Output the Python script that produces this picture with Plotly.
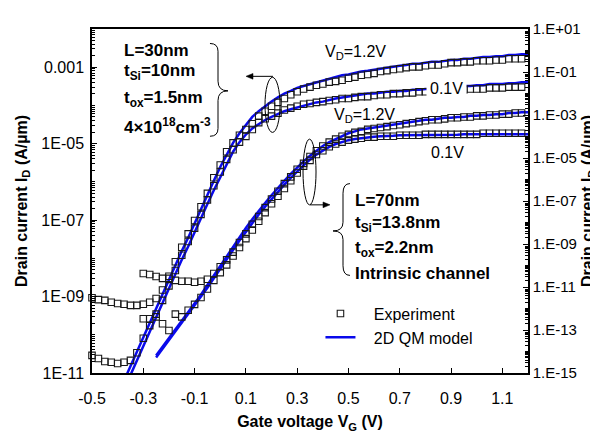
import numpy as np
import plotly.graph_objects as go

STEP = 0.025  # gate-voltage sweep step (V)

# ---------- L = 30 nm device (left axis), log10 of I_D in A/um ----------
vg30_exp_start = -0.5
id30_vd12_exp_log = [-9.03, -9.08, -9.10, -9.15, -9.18, -9.20, -9.23, -9.23, -9.20, -9.15,
                     -9.05, -8.83, -8.47, -8.09, -7.71, -7.36, -7.01, -6.65, -6.30, -5.89,
                     -5.56, -5.21, -4.98, -4.78, -4.63, -4.48, -4.28, -4.15, -4.02, -3.92,
                     -3.82, -3.72, -3.64, -3.57, -3.52, -3.47, -3.44, -3.39, -3.37, -3.34,
                     -3.29, -3.26, -3.21, -3.19, -3.16, -3.11, -3.09, -3.06, -3.04, -3.01,
                     -2.99, -2.99, -2.96, -2.94, -2.94, -2.91, -2.88, -2.88, -2.86, -2.86,
                     -2.83, -2.83, -2.83, -2.81, -2.81, -2.78, -2.78, -2.78]
id30_vd01_exp_log = [-10.54, -10.62, -10.70, -10.72, -10.75, -10.72, -10.67, -10.47, -10.09, -9.76,
                     -9.46, -9.10, -8.72, -8.32, -7.92, -7.56, -7.21, -6.85, -6.47, -6.10,
                     -5.74, -5.41, -5.16, -4.96, -4.81, -4.63, -4.45, -4.35, -4.28, -4.20,
                     -4.12, -4.07, -4.02, -3.97, -3.95, -3.92, -3.90, -3.87, -3.85, -3.82,
                     -3.82, -3.79, -3.77, -3.77, -3.74, -3.72, -3.72, -3.69, -3.69, -3.67,
                     -3.67, -3.64, -3.64, -3.62, -3.62, -3.62, -3.59, -3.59, -3.59, -3.57,
                     -3.57, -3.57, -3.54, -3.54, -3.54, -3.52, -3.52, -3.52]
vg30_mod_start = -0.375
id30_vd12_mod_log = [-11.20, -10.82, -10.44, -10.06, -9.68, -9.31, -8.93, -8.55, -8.19, -7.81,
                     -7.46, -7.08, -6.73, -6.35, -5.97, -5.61, -5.29, -4.98, -4.73, -4.50,
                     -4.30, -4.15, -4.02, -3.90, -3.79, -3.69, -3.62, -3.54, -3.49, -3.44,
                     -3.39, -3.34, -3.29, -3.26, -3.21, -3.19, -3.14, -3.11, -3.09, -3.06,
                     -3.04, -3.01, -2.99, -2.96, -2.94, -2.91, -2.91, -2.88, -2.86, -2.86,
                     -2.83, -2.81, -2.81, -2.78, -2.78, -2.76, -2.73, -2.73, -2.71, -2.71,
                     -2.68, -2.68, -2.66, -2.66]
id30_vd01_mod_log = [-11.43, -11.05, -10.67, -10.29, -9.91, -9.53, -9.15, -8.77, -8.42, -8.04,
                     -7.69, -7.31, -6.95, -6.58, -6.22, -5.87, -5.54, -5.21, -4.96, -4.76,
                     -4.60, -4.48, -4.38, -4.30, -4.22, -4.15, -4.10, -4.05, -4.00, -3.95,
                     -3.92, -3.90, -3.85, -3.82, -3.79, -3.77, -3.74, -3.72, -3.69, -3.69,
                     -3.67, -3.64, -3.64, -3.62, -3.62, -3.59, -3.59, -3.57, -3.57, -3.54,
                     -3.54, -3.52, -3.52, -3.49, -3.49, -3.47, -3.47, -3.44, -3.44, -3.44,
                     -3.42, -3.42, -3.39, -3.39]

# ---------- L = 70 nm device (right axis), log10 of I_D in A/um ----------
vg70_exp_start = -0.3
id70_vd12_exp_log = [-10.37, -10.42, -10.51, -10.60, -10.60, -10.69, -10.73, -10.73, -10.78, -10.73,
                     -10.64, -10.37, -10.06, -9.74, -9.38, -8.93, -8.53, -8.08, -7.72, -7.31,
                     -6.91, -6.55, -6.19, -5.88, -5.52, -5.25, -4.93, -4.66, -4.44, -4.26,
                     -4.12, -3.99, -3.90, -3.81, -3.76, -3.67, -3.63, -3.58, -3.54, -3.49,
                     -3.45, -3.40, -3.36, -3.31, -3.27, -3.22, -3.22, -3.18, -3.13, -3.13,
                     -3.09, -3.09, -3.04, -3.04, -3.00, -3.00, -2.96, -2.96, -2.91, -2.91]
id70_vd01_exp_log = [-12.48, -12.48, -12.39, -12.71, -13.02, -12.26, -12.39, -12.08, -11.81, -11.49,
                     -11.09, -10.69, -10.33, -9.97, -9.56, -9.16, -8.75, -8.35, -7.94, -7.54,
                     -7.13, -6.78, -6.42, -6.06, -5.70, -5.38, -5.11, -4.84, -4.66, -4.48,
                     -4.35, -4.26, -4.17, -4.12, -4.08, -4.03, -4.03, -3.99, -3.99, -3.99,
                     -3.94, -3.94, -3.94, -3.94, -3.90, -3.90, -3.90, -3.90, -3.90, -3.90,
                     -3.90, -3.90, -3.90, -3.85, -3.85, -3.85, -3.85, -3.85, -3.85, -3.85]
vg70_mod_start = -0.25
id70_vd12_mod_log = [-14.19, -13.79, -13.38, -12.98, -12.57, -12.17, -11.76, -11.36, -10.91, -10.46,
                     -10.01, -9.61, -9.11, -8.66, -8.26, -7.85, -7.45, -7.09, -6.73, -6.37,
                     -6.06, -5.74, -5.43, -5.16, -4.89, -4.66, -4.44, -4.26, -4.12, -3.99,
                     -3.85, -3.76, -3.67, -3.63, -3.58, -3.54, -3.49, -3.45, -3.40, -3.36,
                     -3.31, -3.27, -3.22, -3.22, -3.18, -3.13, -3.13, -3.09, -3.09, -3.04,
                     -3.04, -3.00, -3.00, -2.96, -2.96, -2.91, -2.91, -2.87, -2.87]
id70_vd01_mod_log = [-14.28, -13.88, -13.47, -13.07, -12.66, -12.26, -11.85, -11.45, -11.04, -10.60,
                     -10.15, -9.74, -9.29, -8.84, -8.44, -8.03, -7.63, -7.27, -6.91, -6.55,
                     -6.24, -5.92, -5.61, -5.34, -5.07, -4.84, -4.66, -4.48, -4.35, -4.26,
                     -4.17, -4.12, -4.08, -4.03, -4.01, -3.99, -3.99, -3.97, -3.94, -3.94,
                     -3.92, -3.92, -3.92, -3.92, -3.92, -3.92, -3.92, -3.92,
                     -3.90, -3.90, -3.90, -3.90, -3.90, -3.90, -3.90, -3.90, -3.90, -3.90, -3.90]

# ---------- axis ticks ----------
x_tickvals = [-0.5, -0.3, -0.1, 0.1, 0.3, 0.5, 0.7, 0.9, 1.1]
x_ticktext = ["-0.5", "-0.3", "-0.1", "0.1", "0.3", "0.5", "0.7", "0.9", "1.1"]
yl_tick_exp = [-11, -9, -7, -5, -3]
yl_ticktext = ["1E-11", "1E-09", "1E-07", "1E-05", "0.001"]
yr_tick_exp = [-15, -13, -11, -9, -7, -5, -3, -1, 1]
yr_ticktext = ["1.E-15", "1.E-13", "1.E-11", "1.E-09", "1.E-07", "1.E-05", "1.E-03", "1.E-01", "1.E+01"]


def sweep(start, vals):
    return np.round(start + STEP * np.arange(len(vals)), 4)


def cur(vals):
    return np.power(10.0, np.array(vals))


def minor_vals(lo, hi, majors):
    out = []
    for e in range(lo, hi):
        for m in range(1, 10):
            if m == 1 and e in majors:
                continue
            out.append(m * 10.0 ** e)
    return out


BLUE = "rgb(10,10,235)"
FONT = "Liberation Sans, Arial, sans-serif"
NB = "\u00a0" * 3

fig = go.Figure()

model_sets = [
    (vg30_mod_start, id30_vd12_mod_log, "y", True),
    (vg30_mod_start, id30_vd01_mod_log, "y", False),
    (vg70_mod_start, id70_vd12_mod_log, "y2", False),
    (vg70_mod_start, id70_vd01_mod_log, "y2", False),
]
for start, vals, ax, leg in model_sets:
    fig.add_trace(go.Scatter(
        x=sweep(start, vals), y=cur(vals), yaxis=ax, mode="lines",
        line=dict(color=BLUE, width=2.5), name=NB + "2D QM model",
        showlegend=leg, legendrank=2))

exp_sets = [
    (vg30_exp_start, id30_vd12_exp_log, "y", True),
    (vg30_exp_start, id30_vd01_exp_log, "y", False),
    (vg70_exp_start, id70_vd12_exp_log, "y2", False),
    (vg70_exp_start, id70_vd01_exp_log, "y2", False),
]
for start, vals, ax, leg in exp_sets:
    fig.add_trace(go.Scatter(
        x=sweep(start, vals), y=cur(vals), yaxis=ax, mode="markers",
        marker=dict(symbol="square-open", size=6.5, color="rgb(25,25,25)",
                    line=dict(width=1.1, color="rgb(25,25,25)")),
        name=NB + "Experiment", showlegend=leg, legendrank=1, cliponaxis=False))

title_y = "<b>Drain current I<sub>D</sub> (A/µm)</b>"

fig.update_layout(
    width=598, height=432,
    margin=dict(l=84, r=78, t=13, b=63),
    paper_bgcolor="white", plot_bgcolor="white",
    font=dict(family=FONT, color="black", size=15),
    xaxis=dict(range=[-0.5, 1.2], tickmode="array", tickvals=x_tickvals, ticktext=x_ticktext,
               ticks="inside", ticklen=5, tickcolor="black", tickwidth=1,
               showline=True, linecolor="black", linewidth=1.5, mirror=True,
               showgrid=False, zeroline=False, tickfont=dict(size=16),
               ticklabelstandoff=10,
               title=dict(text="<b>Gate voltage V<sub>G</sub> (V)</b>", font=dict(size=16), standoff=10)),
    yaxis=dict(type="log", range=[-11, -2], tickmode="array",
               tickvals=[10.0 ** e for e in yl_tick_exp], ticktext=yl_ticktext,
               ticks="inside", ticklen=5, tickcolor="black",
               minor=dict(tickmode="array", tickvals=minor_vals(-11, -2, yl_tick_exp),
                          ticks="inside", ticklen=3, tickcolor="black"),
               showline=True, linecolor="black", linewidth=1.5,
               showgrid=False, zeroline=False, tickfont=dict(size=16),
               ticklabelstandoff=3,
               title=dict(text=title_y, font=dict(size=16), standoff=10)),
    yaxis2=dict(type="log", range=[-15, 1], overlaying="y", side="right", tickmode="array",
                tickvals=[10.0 ** e for e in yr_tick_exp], ticktext=yr_ticktext,
                ticks="inside", ticklen=5, tickcolor="black",
                minor=dict(tickmode="array", tickvals=minor_vals(-15, 1, yr_tick_exp),
                           ticks="inside", ticklen=3, tickcolor="black"),
                showline=True, linecolor="black", linewidth=1.5,
                showgrid=False, zeroline=False, tickfont=dict(size=15),
                ticklabelstandoff=0,
                title=dict(text=title_y, font=dict(size=16), standoff=2)),
    legend=dict(x=0.524, y=0.222, xanchor="left", yanchor="top",
                bgcolor="rgba(0,0,0,0)", font=dict(size=16, family=FONT),
                itemwidth=30, tracegroupgap=0),
)


# text annotations (paper coordinates)
def txt(text, x, y, size=17, bg=None, pad=1):
    d = dict(text=text, x=x, y=y, xref="paper", yref="paper", xanchor="left", yanchor="middle",
             showarrow=False, font=dict(size=size, family=FONT, color="black"), borderpad=pad)
    if bg:
        d["bgcolor"] = bg
    return d


annots = [
    txt("<b>L=30nm</b>", 0.068, 0.938),
    txt("<b>t<sub>Si</sub>=10nm</b>", 0.068, 0.8736),
    txt("<b>t<sub>ox</sub>=1.5nm</b>", 0.068, 0.7978),
    txt("<b>4×10<sup>18</sup>cm<sup>-3</sup></b>", 0.068, 0.719),
    txt("<b>L=70nm</b>", 0.598, 0.5028),
    txt("<b>t<sub>Si</sub>=13.8nm</b>", 0.598, 0.4326),
    txt("<b>t<sub>ox</sub>=2.2nm</b>", 0.598, 0.3596),
    txt("<b>Intrinsic channel</b>", 0.598, 0.2893),
    txt("V<sub>D</sub>=1.2V", 0.530, 0.9326, size=16),
    txt("V<sub>D</sub>=1.2V", 0.550, 0.75, size=16),
    txt("0.1V", 0.766, 0.8258, size=16, bg="white", pad=3),
    txt("0.1V", 0.772, 0.6404, size=16),
]
fig.update_layout(annotations=annots)

line_k = dict(color="black", width=1)
shapes = [
    # ellipses grouping the curve pairs
    dict(type="circle", xref="paper", yref="paper", x0=0.3968, x1=0.4312, y0=0.6994, y1=0.8596,
         line=line_k, layer="above"),
    dict(type="circle", xref="paper", yref="paper", x0=0.484, x1=0.5138, y0=0.4888, y1=0.6798,
         line=line_k, layer="above"),
    # arrows (shaft + head)
    dict(type="line", xref="paper", yref="paper", x0=0.3600, x1=0.4151, y0=0.8624, y1=0.8624,
         line=line_k, layer="above"),
    dict(type="path", xref="paper", yref="paper", line=dict(color="black", width=0.5),
         fillcolor="black", layer="above",
         path="M0.3532,0.8624 L0.3693,0.8708 L0.3693,0.8540 Z"),
    dict(type="line", xref="paper", yref="paper", x0=0.5000, x1=0.5390, y0=0.4888, y1=0.4888,
         line=line_k, layer="above"),
    dict(type="path", xref="paper", yref="paper", line=dict(color="black", width=0.5),
         fillcolor="black", layer="above",
         path="M0.5459,0.4888 L0.5298,0.4972 L0.5298,0.4804 Z"),
    # curly braces
    dict(type="path", xref="paper", yref="paper", line=line_k, layer="above",
         path="M0.2706,0.9579 Q0.2890,0.9579 0.2890,0.9354 L0.2890,0.8483 "
              "Q0.2890,0.8202 0.3119,0.8202 Q0.2890,0.8202 0.2890,0.7921 "
              "L0.2890,0.7107 Q0.2890,0.6882 0.2706,0.6882"),
    dict(type="path", xref="paper", yref="paper", line=line_k, layer="above",
         path="M0.5917,0.5506 Q0.5757,0.5506 0.5757,0.5225 L0.5757,0.4382 "
              "Q0.5757,0.4129 0.5528,0.4129 Q0.5757,0.4129 0.5757,0.3876 "
              "L0.5757,0.3118 Q0.5757,0.2837 0.5917,0.2837"),
]
fig.update_layout(shapes=shapes)

fig.write_html("out.html")
